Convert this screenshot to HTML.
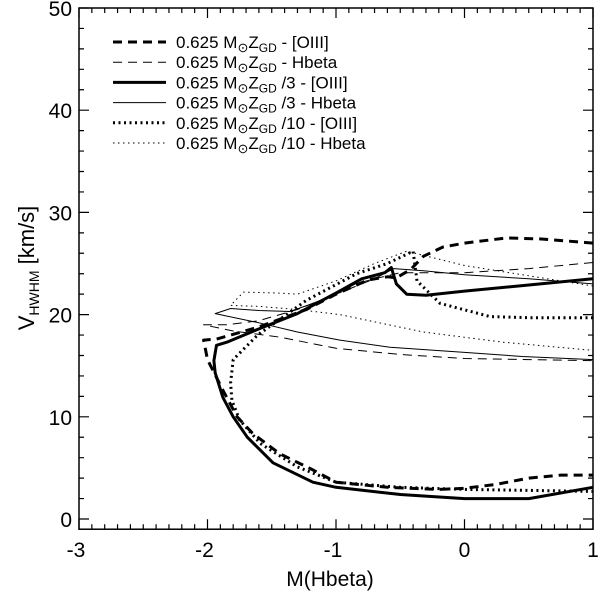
<!DOCTYPE html>
<html><head><meta charset="utf-8"><style>
body{margin:0;background:#fff}
svg{display:block;font-family:"Liberation Sans",sans-serif}
</style></head><body>
<svg id="c" width="600" height="597" viewBox="0 0 600 597"></svg>
<script>
const xTicks=[-3,-2,-1,0,1];
const yTicks=[0,10,20,30,40,50];
const xTickLabels=["-3","-2","-1","0","1"];
const yTickLabels=["0","10","20","30","40","50"];
const s1M=[1,0.6,0.33,0,-0.17,-0.32,-0.42,-0.53,-0.6,-0.75,-1.0,-1.23,-1.6,-1.93,-2.03,-2.0,-1.88,-1.77,-1.65,-1.44,-1.18,-1.0,-0.6,-0.2,0,0.25,0.5,0.75,1];
const s1V=[27.0,27.4,27.5,27.0,26.6,25.7,24.4,23.6,23.7,23.4,22.0,20.5,18.8,17.6,17.5,15.6,12.6,10.0,8.4,6.4,4.8,3.6,3.1,2.9,3.0,3.4,4.0,4.3,4.3];
const s2M=[1,0.5,0,-0.5,-0.7,-1.0,-1.3,-1.6,-1.85,-2.03,-1.8,-1.44,-1.0,-0.5,0,0.5,1];
const s2V=[25.1,24.5,24.1,24.1,23.5,22.0,20.5,19.4,19.0,19.0,18.4,17.8,16.7,16.1,15.7,15.6,15.5];
const s3M=[1,0.5,0,-0.3,-0.45,-0.53,-0.57,-0.62,-0.8,-1.0,-1.3,-1.6,-1.85,-1.93,-1.95,-1.94,-1.88,-1.80,-1.69,-1.49,-1.18,-1.0,-0.5,0,0.5,1];
const s3V=[23.5,22.9,22.3,21.9,22.0,23.0,24.6,24.1,23.5,22.1,20.1,18.6,17.3,17.0,15.5,14.3,11.9,10.0,8.0,5.5,3.6,3.1,2.4,2.0,2.0,3.1];
const s4M=[1,0.5,0,-0.32,-0.55,-0.7,-0.85,-1.0,-1.2,-1.36,-1.6,-1.82,-1.94,-1.6,-1.3,-0.97,-0.58,0,0.45,1];
const s4V=[23.0,23.5,23.9,24.3,24.5,23.5,23.0,22.0,21.0,20.3,20.4,20.6,20.1,19.2,18.3,17.5,16.8,16.3,15.9,15.6];
const s5M=[1,0.5,0.2,-0.19,-0.37,-0.40,-0.6,-0.84,-1.23,-1.44,-1.61,-1.80,-1.82,-1.81,-1.75,-1.59,-1.3,-1.0,-0.5,0,0.5,1];
const s5V=[19.7,19.7,19.8,21.1,23.3,26.2,25.0,24.0,21.4,19.5,18.0,15.6,13.3,11.6,9.7,7.4,5.1,3.6,3.1,2.9,2.8,2.7];
const s6M=[1,0.5,0,-0.45,-0.7,-1.0,-1.3,-1.44,-1.72,-1.82,-1.6,-1.3,-0.97,-0.32,0.3,1];
const s6V=[22.8,23.8,24.8,26.2,25.0,23.3,22.0,22.1,22.2,20.9,20.8,20.5,20.0,18.3,17.3,16.5];
const NS="http://www.w3.org/2000/svg";
const svg=document.getElementById('c');
const X0=79,X1=593;
const xs=v=>X0+(v+3)/4*(X1-X0);
const ys=v=>519-v*10.22;
const Y0=ys(-1),Y1=ys(50);
function el(t,a,p){const e=document.createElementNS(NS,t);for(const k in a)e.setAttribute(k,a[k]);(p||svg).appendChild(e);return e;}
const fr=el('rect',{x:X0,y:Y1,width:X1-X0,height:Y0-Y1,fill:'none',stroke:'#000','stroke-width':1.5});


let tp='';
for(let i=0;i<=40;i++){const v=-3+i*0.1;const x=xs(v);const L=(i%10===0)?10:5;tp+=`M${x},${Y0}v${-L}M${x},${Y1}v${L}`;}
for(let i=0;i<=25;i++){const v=i*2;const y=ys(v);const L=(v%10===0)?10:5;tp+=`M${X0},${y}h${L}M${X1},${y}h${-L}`;}
const tk=el('path',{d:tp,stroke:'#000','stroke-width':1.2,fill:'none'});


xTicks.forEach((v,i)=>{const t=el('text',{x:xs(v)-(v<0?3:0),y:557,'font-size':21,'text-anchor':'middle'});t.textContent=xTickLabels[i];

});
yTicks.forEach((v,i)=>{const t=el('text',{x:X0-7,y:ys(v)+8,'font-size':21,'text-anchor':'end'});t.textContent=yTickLabels[i];

});
const xt=el('text',{x:330,y:586,'font-size':21,'text-anchor':'middle'});xt.textContent='M(Hbeta)';


const yt=el('text',{transform:'translate(34,268) rotate(-90)','font-size':22,'text-anchor':'middle'});
yt.innerHTML='V<tspan font-size="14" dy="5">HWHM</tspan><tspan dy="-5"> [km/s]</tspan>';


const styles=[{w:3,d:'9,6'},{w:1,d:'9,6'},{w:3,d:''},{w:1,d:''},{w:3,d:'2,3.5'},{w:1,d:'1.5,3.5'}];
const series=[[s1M,s1V],[s2M,s2V],[s3M,s3V],[s4M,s4V],[s5M,s5V],[s6M,s6V]];
const names=['series-z-oiii','series-z-hbeta','series-z3-oiii','series-z3-hbeta','series-z10-oiii','series-z10-hbeta'];
const suffix=[' - [OIII]',' - Hbeta',' /3 - [OIII]',' /3 - Hbeta',' /10 - [OIII]',' /10 - Hbeta'];
series.forEach((s,i)=>{
 const d=s[0].map((m,j)=>(j?'L':'M')+xs(m).toFixed(1)+','+ys(s[1][j]).toFixed(1)).join('');
 const p=el('path',{d:d,fill:'none',stroke:'#000','stroke-width':styles[i].w,'stroke-dasharray':styles[i].d,'stroke-linejoin':'round'});
 
 
 const y=42+i*20.2;
 const g=el('g',{});
 
 
 el('line',{x1:113,x2:166,y1:y,y2:y,stroke:'#000','stroke-width':styles[i].w,'stroke-dasharray':styles[i].d},g);
 const t=el('text',{x:176,y:y+6,'font-size':17},g);
 t.innerHTML='0.625 M<tspan font-size="13" dy="4">⊙</tspan><tspan dy="-4">Z</tspan><tspan font-size="12" dy="4">GD</tspan><tspan dy="-4">'+suffix[i]+'</tspan>';
});
</script>
</body></html>
